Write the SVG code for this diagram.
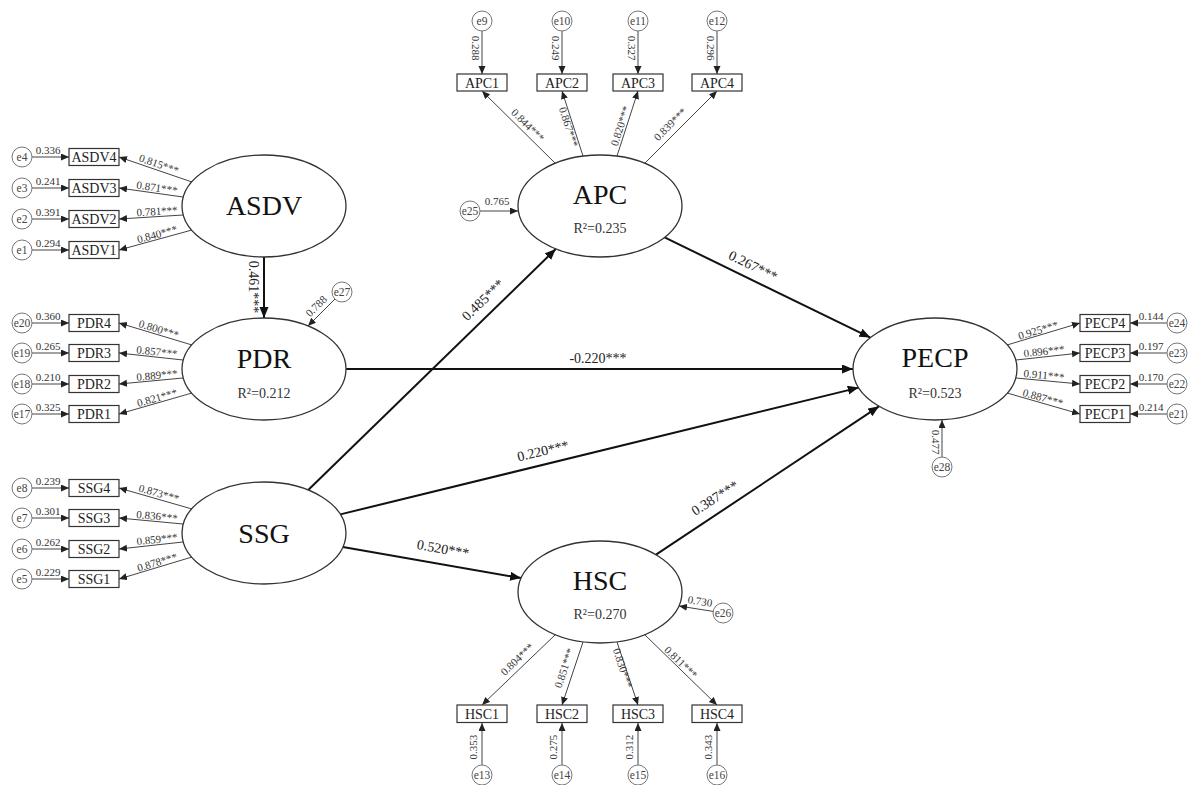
<svg xmlns="http://www.w3.org/2000/svg" width="1188" height="785" viewBox="0 0 1188 785">
<defs>
<style>
text{font-family:"Liberation Serif","Times New Roman",serif;}
.lat{fill:#fff;stroke:#333;stroke-width:1.3;}
.latname{font-size:28px;fill:#111;text-anchor:middle;}
.r2{font-size:14px;fill:#333;text-anchor:middle;}
.box{fill:#fff;stroke:#333;stroke-width:1.2;}
.boxt{font-size:14px;fill:#222;text-anchor:middle;}
.err{fill:#fff;stroke:#777;stroke-width:1;}
.errt{font-size:11.5px;fill:#444;text-anchor:middle;}
.ind{stroke:#444;stroke-width:1;fill:none;marker-end:url(#sa);}
.path{stroke:#111;stroke-width:2;fill:none;marker-end:url(#ba);}
.lab{font-size:11px;fill:#333;text-anchor:middle;dominant-baseline:central;}
.var{font-size:11px;fill:#333;text-anchor:middle;}
.pl{font-size:14px;fill:#222;text-anchor:middle;dominant-baseline:central;}
</style>
<marker id="ba" markerUnits="userSpaceOnUse" markerWidth="12" markerHeight="10" refX="11" refY="4.5" orient="auto"><path d="M0,0 L11,4.5 L0,9 z" fill="#111"/></marker>
<marker id="sa" markerUnits="userSpaceOnUse" markerWidth="9" markerHeight="8" refX="8" refY="3.5" orient="auto"><path d="M0,0 L8,3.5 L0,7 z" fill="#222"/></marker>
</defs>
<rect width="1188" height="785" fill="#fff"/>

<g id="connectors">
<path class="path" d="M264,257 L264,318"/>
<path class="path" d="M346,369 L853,369"/>
<path class="path" d="M308.2,490 L555.8,249"/>
<path class="path" d="M340.3,514.4 L858.7,387.6"/>
<path class="path" d="M342.9,546.9 L521.1,578.1"/>
<path class="path" d="M656,554.7 L879,406.3"/>
<path class="path" d="M664.6,237.4 L870.4,337.6"/>
<text class="pl" transform="translate(253,287) rotate(90)">0.461***</text>
<text class="pl" x="598" y="358">-0.220***</text>
<text class="pl" transform="translate(483,300) rotate(-44.2)">0.485***</text>
<text class="pl" transform="translate(543,451) rotate(-13.3)">0.220***</text>
<text class="pl" transform="translate(443,549) rotate(10)">0.520***</text>
<text class="pl" transform="translate(715,498) rotate(-32.7)">0.387***</text>
<text class="pl" transform="translate(753,266) rotate(26.2)">0.267***</text>

<path class="ind" d="M192,182 L119,157"/>
<path class="ind" d="M183,197 L119,188"/>
<path class="ind" d="M183,215 L119,219"/>
<path class="ind" d="M192,230 L119,250"/>
<path class="ind" d="M192,345 L119,323"/>
<path class="ind" d="M183,360 L119,353"/>
<path class="ind" d="M183,378 L119,384"/>
<path class="ind" d="M192,393 L119,414"/>
<path class="ind" d="M192,509 L119,488"/>
<path class="ind" d="M183,524 L119,518"/>
<path class="ind" d="M183,542 L119,549"/>
<path class="ind" d="M192,557 L119,579"/>
<path class="ind" d="M1007,345 L1080,323"/>
<path class="ind" d="M1016,360 L1080,353"/>
<path class="ind" d="M1016,378 L1080,384"/>
<path class="ind" d="M1007,393 L1080,414"/>
<path class="ind" d="M555,163 L482,91"/>
<path class="ind" d="M583,156 L562,91"/>
<path class="ind" d="M617,156 L638,91"/>
<path class="ind" d="M645,163 L717,91"/>
<path class="ind" d="M555,635 L482,705"/>
<path class="ind" d="M583,642 L562,705"/>
<path class="ind" d="M617,642 L638,705"/>
<path class="ind" d="M645,635 L717,705"/>

<text class="lab" transform="translate(159,164) rotate(18.9)">0.815***</text>
<text class="lab" transform="translate(157,187.5) rotate(8)">0.871***</text>
<text class="lab" transform="translate(157,211) rotate(-3.6)">0.781***</text>
<text class="lab" transform="translate(157,234) rotate(-15.3)">0.840***</text>
<text class="lab" transform="translate(159,329) rotate(16.8)">0.800***</text>
<text class="lab" transform="translate(157,351.5) rotate(6.2)">0.857***</text>
<text class="lab" transform="translate(157,375) rotate(-5.4)">0.889***</text>
<text class="lab" transform="translate(157,397.5) rotate(-16)">0.821***</text>
<text class="lab" transform="translate(159,493) rotate(16)">0.873***</text>
<text class="lab" transform="translate(157,516) rotate(5.4)">0.836***</text>
<text class="lab" transform="translate(157,539) rotate(-6.2)">0.859***</text>
<text class="lab" transform="translate(157,562) rotate(-16.8)">0.878***</text>
<text class="lab" transform="translate(1038,330) rotate(-16.8)">0.925***</text>
<text class="lab" transform="translate(1044,351) rotate(-6.2)">0.896***</text>
<text class="lab" transform="translate(1044,375) rotate(5.4)">0.911***</text>
<text class="lab" transform="translate(1043,397.5) rotate(16)">0.887***</text>
<text class="lab" transform="translate(528,125) rotate(44.6)">0.844***</text>
<text class="lab" transform="translate(569,127) rotate(72)">0.867***</text>
<text class="lab" transform="translate(620,126) rotate(-72)">0.820***</text>
<text class="lab" transform="translate(670,124) rotate(-45)">0.839***</text>
<text class="lab" transform="translate(517,659) rotate(-43.8)">0.804***</text>
<text class="lab" transform="translate(564,668) rotate(-71.6)">0.851***</text>
<text class="lab" transform="translate(623,668) rotate(71.6)">0.830***</text>
<text class="lab" transform="translate(681,662) rotate(44.2)">0.811***</text>

<path class="ind" d="M32,157 L69,157"/>
<path class="ind" d="M32,188 L69,188"/>
<path class="ind" d="M32,219 L69,219"/>
<path class="ind" d="M32,250 L69,250"/>
<path class="ind" d="M32,323 L69,323"/>
<path class="ind" d="M32,353 L69,353"/>
<path class="ind" d="M32,384 L69,384"/>
<path class="ind" d="M32,414 L69,414"/>
<path class="ind" d="M32,488 L69,488"/>
<path class="ind" d="M32,518 L69,518"/>
<path class="ind" d="M32,549 L69,549"/>
<path class="ind" d="M32,579 L69,579"/>
<path class="ind" d="M1167,323 L1130,323"/>
<path class="ind" d="M1167,353 L1130,353"/>
<path class="ind" d="M1167,384 L1130,384"/>
<path class="ind" d="M1167,414 L1130,414"/>
<path class="ind" d="M482,31 L482,74"/>
<path class="ind" d="M562,31 L562,74"/>
<path class="ind" d="M638,31 L638,74"/>
<path class="ind" d="M717,31 L717,74"/>
<path class="ind" d="M482,765 L482,723"/>
<path class="ind" d="M562,765 L562,723"/>
<path class="ind" d="M638,765 L638,723"/>
<path class="ind" d="M717,765 L717,723"/>
<path class="ind" d="M480,211 L518,211"/>
<path class="ind" d="M713,611.4 L679,606"/>
<path class="ind" d="M335,299 L308,326"/>
<path class="ind" d="M942,457 L942,420"/>

<text class="var" x="48" y="153.5">0.336</text>
<text class="var" x="48" y="184.5">0.241</text>
<text class="var" x="48" y="215.5">0.391</text>
<text class="var" x="48" y="246.5">0.294</text>
<text class="var" x="48" y="319.5">0.360</text>
<text class="var" x="48" y="349.5">0.265</text>
<text class="var" x="48" y="380.5">0.210</text>
<text class="var" x="48" y="410.5">0.325</text>
<text class="var" x="48" y="484.5">0.239</text>
<text class="var" x="48" y="514.5">0.301</text>
<text class="var" x="48" y="545.5">0.262</text>
<text class="var" x="48" y="575.5">0.229</text>
<text class="var" x="1151" y="319.5">0.144</text>
<text class="var" x="1151" y="349.5">0.197</text>
<text class="var" x="1151" y="380.5">0.170</text>
<text class="var" x="1151" y="410.5">0.214</text>
<text class="var" x="497" y="205">0.765</text>
<text class="lab" transform="translate(476,48) rotate(90)">0.288</text>
<text class="lab" transform="translate(556,48) rotate(90)">0.249</text>
<text class="lab" transform="translate(632,48) rotate(90)">0.327</text>
<text class="lab" transform="translate(711,48) rotate(90)">0.296</text>
<text class="lab" transform="translate(473,747) rotate(-90)">0.353</text>
<text class="lab" transform="translate(553,747) rotate(-90)">0.275</text>
<text class="lab" transform="translate(629,747) rotate(-90)">0.312</text>
<text class="lab" transform="translate(708,747) rotate(-90)">0.343</text>
<text class="lab" transform="translate(316,306) rotate(-44)">0.788</text>
<text class="lab" transform="translate(700,601) rotate(9)">0.730</text>
<text class="lab" transform="translate(936,442) rotate(90)">0.477</text>
</g>

<g id="ASDV"><ellipse class="lat" cx="264" cy="206" rx="82" ry="51"/><text class="latname" x="264" y="215">ASDV</text></g>
<g id="PDR"><ellipse class="lat" cx="264" cy="369" rx="82" ry="51"/><text class="latname" x="264" y="368">PDR</text><text class="r2" x="264" y="398">R²=0.212</text></g>
<g id="SSG"><ellipse class="lat" cx="264" cy="533" rx="82" ry="51"/><text class="latname" x="264" y="543">SSG</text></g>
<g id="APC"><ellipse class="lat" cx="600" cy="206" rx="82" ry="51"/><text class="latname" x="600" y="204">APC</text><text class="r2" x="600" y="233">R²=0.235</text></g>
<g id="HSC"><ellipse class="lat" cx="600" cy="592" rx="82" ry="51"/><text class="latname" x="600" y="590">HSC</text><text class="r2" x="600" y="619">R²=0.270</text></g>
<g id="PECP"><ellipse class="lat" cx="935" cy="369" rx="82" ry="51"/><text class="latname" x="935" y="367">PECP</text><text class="r2" x="935" y="398">R²=0.523</text></g>

<g id="ASDV4"><rect class="box" x="69" y="148.5" width="50" height="17"/><text class="boxt" x="94" y="162">ASDV4</text></g>
<g id="ASDV3"><rect class="box" x="69" y="179.5" width="50" height="17"/><text class="boxt" x="94" y="193">ASDV3</text></g>
<g id="ASDV2"><rect class="box" x="69" y="210.5" width="50" height="17"/><text class="boxt" x="94" y="224">ASDV2</text></g>
<g id="ASDV1"><rect class="box" x="69" y="241.5" width="50" height="17"/><text class="boxt" x="94" y="255">ASDV1</text></g>
<g id="PDR4"><rect class="box" x="69" y="314.5" width="50" height="17"/><text class="boxt" x="94" y="328">PDR4</text></g>
<g id="PDR3"><rect class="box" x="69" y="344.5" width="50" height="17"/><text class="boxt" x="94" y="358">PDR3</text></g>
<g id="PDR2"><rect class="box" x="69" y="375.5" width="50" height="17"/><text class="boxt" x="94" y="389">PDR2</text></g>
<g id="PDR1"><rect class="box" x="69" y="405.5" width="50" height="17"/><text class="boxt" x="94" y="419">PDR1</text></g>
<g id="SSG4"><rect class="box" x="69" y="479.5" width="50" height="17"/><text class="boxt" x="94" y="493">SSG4</text></g>
<g id="SSG3"><rect class="box" x="69" y="509.5" width="50" height="17"/><text class="boxt" x="94" y="523">SSG3</text></g>
<g id="SSG2"><rect class="box" x="69" y="540.5" width="50" height="17"/><text class="boxt" x="94" y="554">SSG2</text></g>
<g id="SSG1"><rect class="box" x="69" y="570.5" width="50" height="17"/><text class="boxt" x="94" y="584">SSG1</text></g>
<g id="PECP4"><rect class="box" x="1080" y="314.5" width="50" height="17"/><text class="boxt" x="1105" y="328">PECP4</text></g>
<g id="PECP3"><rect class="box" x="1080" y="344.5" width="50" height="17"/><text class="boxt" x="1105" y="358">PECP3</text></g>
<g id="PECP2"><rect class="box" x="1080" y="375.5" width="50" height="17"/><text class="boxt" x="1105" y="389">PECP2</text></g>
<g id="PECP1"><rect class="box" x="1080" y="405.5" width="50" height="17"/><text class="boxt" x="1105" y="419">PECP1</text></g>
<g id="APC1"><rect class="box" x="457" y="74" width="50" height="17"/><text class="boxt" x="482" y="87.5">APC1</text></g>
<g id="APC2"><rect class="box" x="537" y="74" width="50" height="17"/><text class="boxt" x="562" y="87.5">APC2</text></g>
<g id="APC3"><rect class="box" x="613" y="74" width="50" height="17"/><text class="boxt" x="638" y="87.5">APC3</text></g>
<g id="APC4"><rect class="box" x="692" y="74" width="50" height="17"/><text class="boxt" x="717" y="87.5">APC4</text></g>
<g id="HSC1"><rect class="box" x="457" y="705" width="50" height="17.5"/><text class="boxt" x="482" y="718.5">HSC1</text></g>
<g id="HSC2"><rect class="box" x="537" y="705" width="50" height="17.5"/><text class="boxt" x="562" y="718.5">HSC2</text></g>
<g id="HSC3"><rect class="box" x="613" y="705" width="50" height="17.5"/><text class="boxt" x="638" y="718.5">HSC3</text></g>
<g id="HSC4"><rect class="box" x="692" y="705" width="50" height="17.5"/><text class="boxt" x="717" y="718.5">HSC4</text></g>

<g id="e4"><circle class="err" cx="22" cy="157" r="10"/><text class="errt" x="22" y="161">e4</text></g>
<g id="e3"><circle class="err" cx="22" cy="188" r="10"/><text class="errt" x="22" y="192">e3</text></g>
<g id="e2"><circle class="err" cx="22" cy="219" r="10"/><text class="errt" x="22" y="223">e2</text></g>
<g id="e1"><circle class="err" cx="22" cy="250" r="10"/><text class="errt" x="22" y="254">e1</text></g>
<g id="e20"><circle class="err" cx="22" cy="323" r="10"/><text class="errt" x="22" y="327">e20</text></g>
<g id="e19"><circle class="err" cx="22" cy="353" r="10"/><text class="errt" x="22" y="357">e19</text></g>
<g id="e18"><circle class="err" cx="22" cy="384" r="10"/><text class="errt" x="22" y="388">e18</text></g>
<g id="e17"><circle class="err" cx="22" cy="414" r="10"/><text class="errt" x="22" y="418">e17</text></g>
<g id="e8"><circle class="err" cx="22" cy="488" r="10"/><text class="errt" x="22" y="492">e8</text></g>
<g id="e7"><circle class="err" cx="22" cy="518" r="10"/><text class="errt" x="22" y="522">e7</text></g>
<g id="e6"><circle class="err" cx="22" cy="549" r="10"/><text class="errt" x="22" y="553">e6</text></g>
<g id="e5"><circle class="err" cx="22" cy="579" r="10"/><text class="errt" x="22" y="583">e5</text></g>
<g id="e24"><circle class="err" cx="1177" cy="323" r="10"/><text class="errt" x="1177" y="327">e24</text></g>
<g id="e23"><circle class="err" cx="1177" cy="353" r="10"/><text class="errt" x="1177" y="357">e23</text></g>
<g id="e22"><circle class="err" cx="1177" cy="384" r="10"/><text class="errt" x="1177" y="388">e22</text></g>
<g id="e21"><circle class="err" cx="1177" cy="414" r="10"/><text class="errt" x="1177" y="418">e21</text></g>
<g id="e9"><circle class="err" cx="482" cy="21" r="10"/><text class="errt" x="482" y="25">e9</text></g>
<g id="e10"><circle class="err" cx="562" cy="21" r="10"/><text class="errt" x="562" y="25">e10</text></g>
<g id="e11"><circle class="err" cx="638" cy="21" r="10"/><text class="errt" x="638" y="25">e11</text></g>
<g id="e12"><circle class="err" cx="717" cy="21" r="10"/><text class="errt" x="717" y="25">e12</text></g>
<g id="e13"><circle class="err" cx="482" cy="775" r="10"/><text class="errt" x="482" y="779">e13</text></g>
<g id="e14"><circle class="err" cx="562" cy="775" r="10"/><text class="errt" x="562" y="779">e14</text></g>
<g id="e15"><circle class="err" cx="638" cy="775" r="10"/><text class="errt" x="638" y="779">e15</text></g>
<g id="e16"><circle class="err" cx="717" cy="775" r="10"/><text class="errt" x="717" y="779">e16</text></g>
<g id="e25"><circle class="err" cx="470" cy="211" r="10"/><text class="errt" x="470" y="215">e25</text></g>
<g id="e26"><circle class="err" cx="723" cy="613" r="10"/><text class="errt" x="723" y="617">e26</text></g>
<g id="e27"><circle class="err" cx="342" cy="292" r="10"/><text class="errt" x="342" y="296">e27</text></g>
<g id="e28"><circle class="err" cx="942" cy="467" r="10"/><text class="errt" x="942" y="471">e28</text></g>
</svg>
